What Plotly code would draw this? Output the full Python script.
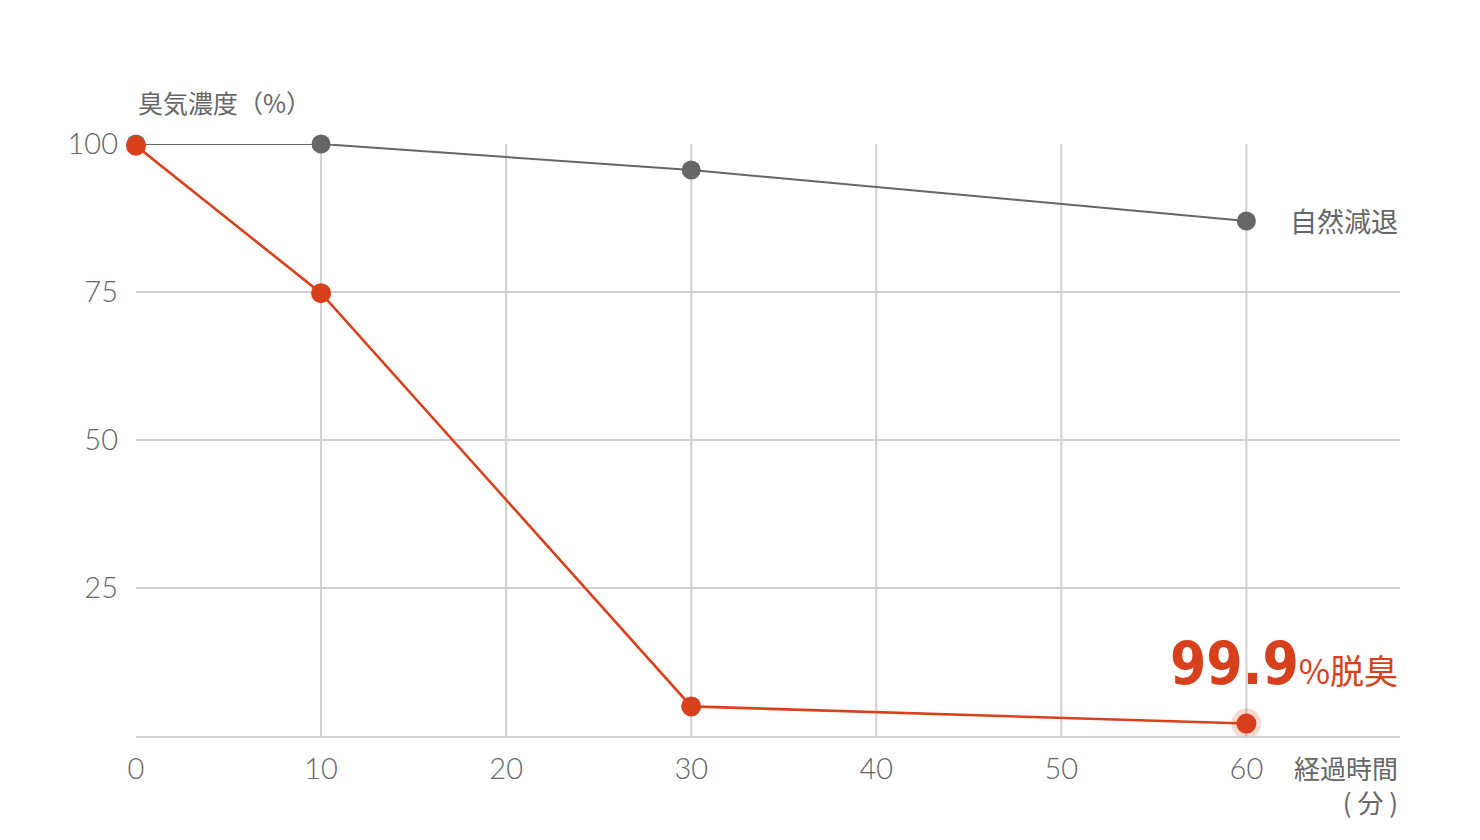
import plotly.graph_objects as go

minutes = [0, 10, 30, 60]
natural = [100, 100, 95.6, 87.0]
treated = [99.7, 74.8, 5.0, 2.1]
x_ticks = [0, 10, 20, 30, 40, 50, 60]
y_ticks = [25, 50, 75, 100]

RED = "#d8401c"
GRAY = "#666666"
GRID = "#d0d0d0"
FONT = "Lato, 'Noto Sans CJK JP', sans-serif"
JP = "'Noto Sans CJK JP', sans-serif"

fig = go.Figure()
fig.add_trace(go.Scatter(x=minutes, y=natural, mode="lines+markers",
                         line=dict(color=GRAY, width=2),
                         marker=dict(color=GRAY, size=19), showlegend=False,
                         cliponaxis=False))
# halo around final point
fig.add_trace(go.Scatter(x=[minutes[-1]], y=[treated[-1]], mode="markers",
                         marker=dict(color="rgba(216,64,28,0.2)", size=30),
                         showlegend=False, cliponaxis=False))
fig.add_trace(go.Scatter(x=minutes, y=treated, mode="lines+markers",
                         line=dict(color=RED, width=2.6),
                         marker=dict(color=RED, size=20), showlegend=False,
                         cliponaxis=False))

shapes = []
for xv in x_ticks[1:]:
    shapes.append(dict(type="line", xref="x", yref="y", x0=xv, x1=xv, y0=0, y1=100,
                       line=dict(color=GRID, width=2), layer="below"))

fig.update_layout(
    width=1480, height=840,
    margin=dict(l=128, r=88, t=136, b=112),
    plot_bgcolor="white", paper_bgcolor="white",
    shapes=shapes,
    xaxis=dict(range=[0, 68.3], tickvals=x_ticks, showgrid=False, zeroline=False,
               showline=True, linecolor=GRID, linewidth=2,
               ticks="", ticklen=0, ticklabelstandoff=6,
               tickfont=dict(family=FONT, size=29, color=GRAY, weight=300)),
    yaxis=dict(range=[0, 100], tickvals=y_ticks, showgrid=True, gridcolor=GRID, gridwidth=2,
               zeroline=False, showline=False, ticks="", ticklen=0, ticklabelstandoff=17,
               tickfont=dict(family=FONT, size=29, color=GRAY, weight=300)),
    font=dict(family=FONT),
)

fig.add_annotation(x=0, y=1, xref="x", yref="paper", yshift=42, xanchor="left", yanchor="middle",
                   text="臭気濃度（%）", showarrow=False,
                   font=dict(family=JP, size=25, color=GRAY))
fig.add_annotation(x=1, y=natural[-1], xref="paper", yref="y", xanchor="right", yanchor="middle",
                   text="自然減退", showarrow=False, font=dict(family=JP, size=27, color=GRAY))
fig.add_annotation(x=1, y=0, xref="paper", yref="paper", yshift=-48, xanchor="right", yanchor="middle",
                   text="経過時間<br>( 分 )", align="right", showarrow=False,
                   font=dict(family=JP, size=26, color=GRAY))
fig.add_annotation(x=1, y=treated[-1], xref="paper", yref="y", yshift=60, xanchor="right", yanchor="middle",
                   text="<span style='font-family:DejaVu Sans Condensed;font-size:58px'><b>99.9</b></span>"
                        "<span style='font-size:34px'>%脱臭</span>",
                   showarrow=False, font=dict(family=JP, size=34, color=RED))

fig.write_html("out.html")
